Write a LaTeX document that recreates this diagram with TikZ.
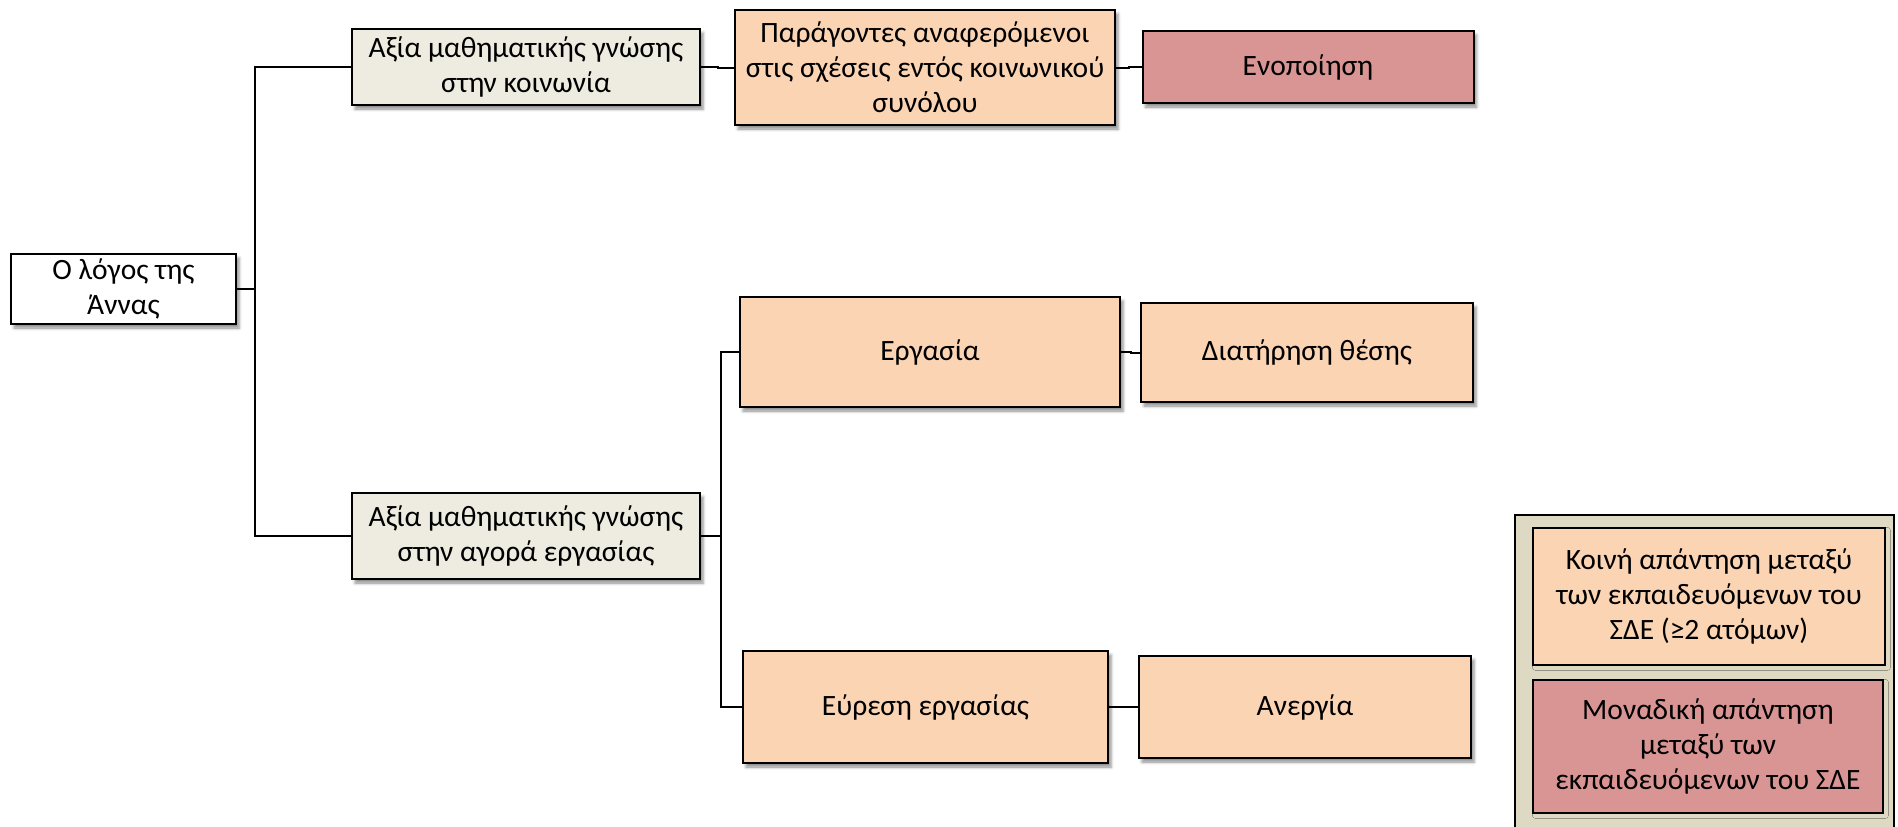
\documentclass[tikz,border=0pt]{standalone}
\usepackage{fontspec}
\setmainfont{Carlito}
\usetikzlibrary{shadows.blur}
\definecolor{beige}{HTML}{EEECE1}
\definecolor{peach}{HTML}{FBD4B4}
\definecolor{rose}{HTML}{D99594}
\definecolor{legbg}{HTML}{DDD9C3}
\tikzset{
  box/.style={draw=black, line width=2pt, inner sep=0pt, align=center,
    font=\fontsize{29.5}{35}\selectfont,
    blur shadow={shadow xshift=3pt, shadow yshift=-4pt, shadow blur radius=3pt, shadow opacity=45}},
  whitebox/.style={box, fill=white},
  beigebox/.style={box, fill=beige},
  peachbox/.style={box, fill=peach},
  rosebox/.style={box, fill=rose},
  conn/.style={draw=black, line width=2pt},
}
\begin{document}
\begin{tikzpicture}[x=1pt,y=-1pt]
\useasboundingbox (0,0) rectangle (1898,827);
\clip (0,0) rectangle (1898,827);

% root and first level
\node[whitebox, minimum width=225pt, minimum height=70pt] (root) at (123.5,289) {Ο λόγος της\\Άννας};
\node[beigebox, minimum width=348pt, minimum height=76pt] (soc) at (526,67) {Αξία μαθηματικής γνώσης\\στην κοινωνία};
\node[beigebox, minimum width=348pt, minimum height=86pt] (lab) at (526,536) {Αξία μαθηματικής γνώσης\\στην αγορά εργασίας};

% society branch
\node[peachbox, minimum width=380pt, minimum height=115pt] (fac) at (925,67.5) {Παράγοντες αναφερόμενοι\\στις σχέσεις εντός κοινωνικού\\συνόλου};
\node[rosebox, minimum width=331pt, minimum height=72pt] (uni) at (1308,67) {Ενοποίηση};

% labour market branch
\node[peachbox, minimum width=380pt, minimum height=110pt] (work) at (930,352) {Εργασία};
\node[peachbox, minimum width=332pt, minimum height=99pt] (keep) at (1307,352.5) {Διατήρηση θέσης};
\node[peachbox, minimum width=365pt, minimum height=112pt] (find) at (925.5,707) {Εύρεση εργασίας};
\node[peachbox, minimum width=332pt, minimum height=102pt] (unemp) at (1305,707) {Ανεργία};

% connectors
\coordinate (j1) at (255,289);
\draw[conn] (root.east) -- (j1);
\draw[conn] (soc.west) -| (j1) |- (lab.west);
\coordinate (j2) at (721,536);
\draw[conn] (lab.east) -- (j2);
\draw[conn] (work.west) -| (j2) |- (find.west);
\draw[conn] (soc.east) -- ++(17,0) |- (fac.west);
\draw[conn] (fac.east) -- ++(13,0) |- (uni.west);
\draw[conn] (work.east) -- ++(10,0) |- (keep.west);
\draw[conn] (find.east) -- (unemp.west);

% legend
\draw[line width=2pt, fill=legbg] (1515,515) rectangle (1894,860);
\node[peachbox, minimum width=352pt, minimum height=137pt, blur shadow={shadow opacity=0}] (leg1) at (1709,596.5) {Κοινή απάντηση μεταξύ\\των εκπαιδευόμενων του\\ΣΔΕ (≥2 ατόμων)};
\node[rosebox, minimum width=350pt, minimum height=133pt, blur shadow={shadow opacity=0}] (leg2) at (1708,746.5) {Μοναδική απάντηση\\μεταξύ των\\εκπαιδευόμενων του ΣΔΕ};
\end{tikzpicture}
\end{document}
